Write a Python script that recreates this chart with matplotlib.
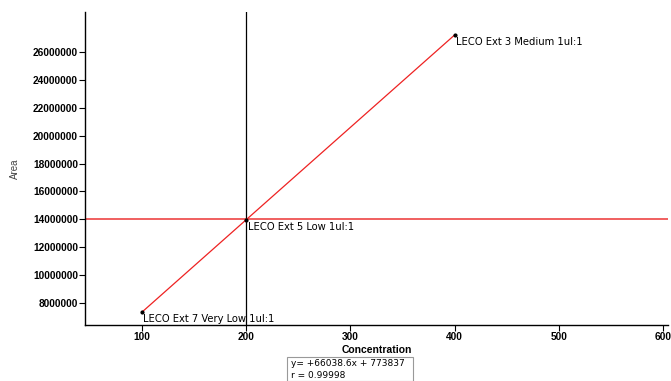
import matplotlib
matplotlib.use("Agg")
import matplotlib.pyplot as plt
from matplotlib.patches import Rectangle

conc = [100, 200, 400]
area = [7380000, 13985000, 27185000]
labels = ["LECO Ext 7 Very Low 1ul:1", "LECO Ext 5 Low 1ul:1", "LECO Ext 3 Medium 1ul:1"]
slope = 66038.6
intercept = 773837
r_value = 0.99998
xticks = [100, 200, 300, 400, 500, 600]
yticks = [8000000, 10000000, 12000000, 14000000, 16000000, 18000000,
          20000000, 22000000, 24000000, 26000000]
cross_x = 200
cross_y = 14000000

fig = plt.figure(figsize=(6.71, 3.81), dpi=100)
ax = fig.add_axes([85/671, 1-325/381, (668-85)/671, (325-12)/381])

ax.set_xlim(45.2, 605)
ax.set_ylim(6450000, 28840000)

xs = [conc[0], conc[-1]]
ax.plot(xs, [slope*x + intercept for x in xs], color="#ee2222", lw=0.9, zorder=2)
ax.axhline(cross_y, color="#ee4444", lw=1.2, zorder=1)
ax.axvline(cross_x, color="black", lw=0.9, zorder=1)
ax.scatter(conc, area, s=4, color="black", zorder=3)
for x, y, t in zip(conc, area, labels):
    ax.annotate(t, (x, y), xytext=(1, -1.5), textcoords="offset points",
                ha="left", va="top", fontsize=8, family="DejaVu Sans",
                fontstretch="condensed")

for s in ["top", "right"]:
    ax.spines[s].set_visible(False)
ax.spines["left"].set_linewidth(1)
ax.spines["bottom"].set_linewidth(1)
ax.set_xticks(xticks)
ax.set_yticks(yticks)
ax.set_xticklabels([str(v) for v in xticks], fontsize=7.3, fontweight="bold", family="Liberation Sans")
ax.set_yticklabels([str(v) for v in yticks], fontsize=7.3, fontweight="bold", family="Liberation Sans")
ax.tick_params(length=4, width=0.8, pad=1)

ax.set_xlabel("Concentration", fontsize=7.5, fontweight="bold", family="Liberation Sans", labelpad=2)
ax.set_ylabel("Area", fontsize=7, color="#444444", family="Liberation Sans")
ax.yaxis.set_label_coords((20-85)/583, 0.5)

fig.patches.append(Rectangle((287/671, 0), (413-287)/671, (381-357)/381,
                             transform=fig.transFigure, fill=False,
                             edgecolor="#999999", lw=0.8))
fig.text(291/671, 1-364/381, f"y= +{slope}x + {intercept}", fontsize=6.5,
         family="DejaVu Sans", va="center")
fig.text(291/671, 1-376/381, f"r = {r_value}", fontsize=6.5,
         family="DejaVu Sans", va="center")

fig.savefig("out.png", dpi=100)
